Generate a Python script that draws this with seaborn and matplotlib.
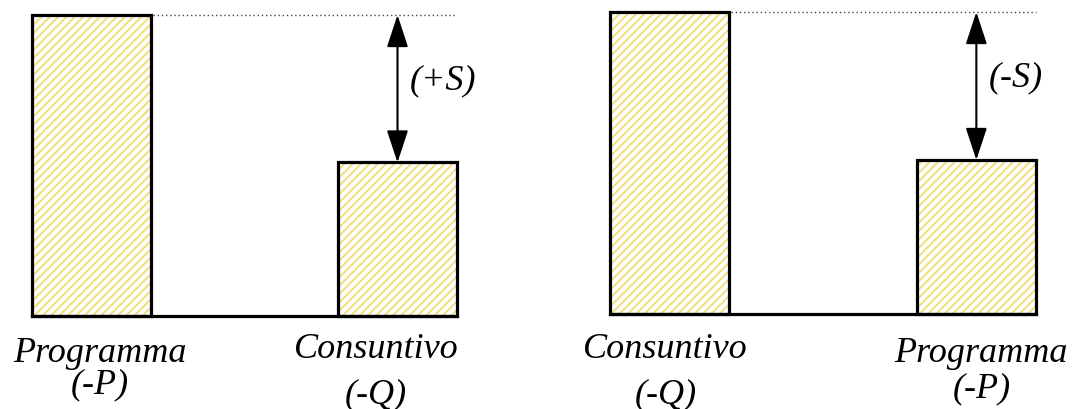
import matplotlib
matplotlib.use('Agg')
import matplotlib.pyplot as plt
import seaborn as sns
from matplotlib.patches import FancyArrowPatch

# ---- dati ----
left_names = ['Programma', 'Consuntivo']
left_codes = ['(-P)', '(-Q)']
left_values = [100, 51]
left_gap = '(+S)'

right_names = ['Consuntivo', 'Programma']
right_codes = ['(-Q)', '(-P)']
right_values = [100, 51]
right_gap = '(-S)'

sns.set_theme(style='white')
plt.rcParams['font.family'] = ['Liberation Serif', 'DejaVu Serif']
plt.rcParams['font.style'] = 'italic'
plt.rcParams['text.color'] = 'black'
plt.rcParams['hatch.linewidth'] = 1.3

HATCH_COL = '#f2dc72'
W = 0.389
FS = 26

fig = plt.figure(figsize=(10.73, 4.09), dpi=100)
ax_l = fig.add_axes([32 / 1073, 93 / 409, 425 / 1073, 301 / 409])
ax_r = fig.add_axes([610 / 1073, 95 / 409, 426 / 1073, 302 / 409])


def draw_panel(ax, names, codes, values, gap, name_pos, code_pos, gap_pos):
    # riempimento tratteggiato giallo
    sns.barplot(x=names, y=values, color='white', width=W, ax=ax)
    for p in ax.patches:
        p.set_hatch('////')
        p.set_edgecolor(HATCH_COL)
        p.set_linewidth(0)
    # contorno nero
    sns.barplot(x=names, y=values, color='black', fill=False, width=W,
                linewidth=2.3, ax=ax)
    for p in ax.patches:
        p.set_clip_on(False)

    ax.set_xlim(-W / 2, 1 + W / 2)
    ax.set_ylim(0, max(values))
    for s in ['top', 'left', 'right']:
        ax.spines[s].set_visible(False)
    ax.spines['bottom'].set_linewidth(2.3)
    ax.spines['bottom'].set_color('black')
    ax.set_xticks([])
    ax.set_yticks([])
    ax.set_xlabel('')
    ax.set_ylabel('')

    # linea punteggiata al livello della barra alta
    ax.plot([W / 2 + 0.005, 1 + W / 2], [values[0], values[0]], color='#444444',
            lw=1, ls=(0, (1, 2)), clip_on=False)

    # freccia della differenza
    arr = FancyArrowPatch((1, values[1]), (1, values[0]),
                          arrowstyle='<|-|>,head_length=1.0,head_width=0.33',
                          mutation_scale=20, color='black', lw=1.5,
                          shrinkA=0, shrinkB=0, clip_on=False)
    ax.add_patch(arr)
    ax.text(gap_pos[0], gap_pos[1], gap, ha='center', va='center', fontsize=FS)

    for i in range(2):
        ax.text(name_pos[i][0], name_pos[i][1], names[i], ha='center',
                va='baseline', fontsize=FS, clip_on=False)
        ax.text(code_pos[i][0], code_pos[i][1], codes[i], ha='center',
                va='baseline', fontsize=FS, clip_on=False)


draw_panel(ax_l, left_names, left_codes, left_values, left_gap,
           name_pos=[(0.026, -15.3), (0.931, -14.0)],
           code_pos=[(0.028, -25.6), (0.930, -28.9)],
           gap_pos=(1.150, 78.1))
draw_panel(ax_r, right_names, right_codes, right_values, right_gap,
           name_pos=[(-0.013, -14.6), (1.016, -15.9)],
           code_pos=[(-0.011, -29.5), (1.019, -27.5)],
           gap_pos=(1.127, 78.1))

fig.savefig('out.png', dpi=100)
